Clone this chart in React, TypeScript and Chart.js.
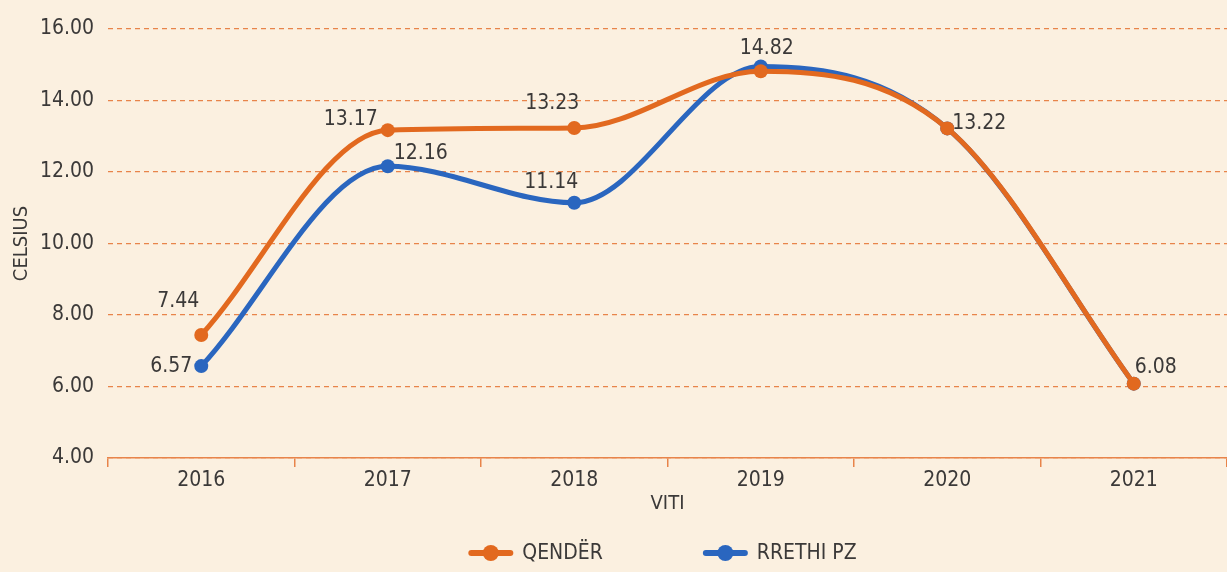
import { useEffect, useRef } from 'react';
import { Chart, registerables } from 'chart.js';

Chart.register(...registerables);

const years = ['2016', '2017', '2018', '2019', '2020', '2021'];
const qender = [7.44, 13.17, 13.23, 14.82, 13.22, 6.08];
const rrethi = [6.57, 12.16, 11.14, 14.95, 13.22, 6.08];
const qenderLabels = ['7.44', '13.17', '13.23', '14.82', '13.22', '6.08'];
const rrethiLabels = ['6.57', '12.16', '11.14', '', '', ''];
const seriesNames = ['QENDËR', 'RRETHI PZ'];

// label placement relative to the point (style, not data)
const qenderLabelOffsets = [[-23, -33], [-37, -11], [-22, -24], [6, -23], [32, -5], [22, -16]];
const rrethiLabelOffsets = [[-30, 0], [33, -13], [-23, -20], [0, 0], [0, 0], [0, 0]];

const ORANGE = '#e2691f';
const BLUE = '#2a66bf';
const GRID = '#e8844a';
const TEXT = '#3b3938';
const BG = '#fbf0e0';
const FONT = "'DejaVu Sans Condensed', 'Roboto', sans-serif";

const labelPlugin = {
  id: 'pointLabels',
  afterDatasetsDraw(chart: any) {
    const ctx = chart.ctx;
    const sets = [
      { idx: 0, labels: qenderLabels, offs: qenderLabelOffsets },
      { idx: 1, labels: rrethiLabels, offs: rrethiLabelOffsets },
    ];
    ctx.save();
    ctx.font = `21px ${FONT}`;
    ctx.fillStyle = TEXT;
    ctx.textAlign = 'center';
    ctx.textBaseline = 'middle';
    sets.forEach((s) => {
      const meta = chart.getDatasetMeta(s.idx);
      meta.data.forEach((pt: any, i: number) => {
        const t = s.labels[i];
        if (!t) return;
        const [dx, dy] = s.offs[i];
        ctx.fillText(t, pt.x + dx, pt.y + dy);
      });
    });
    ctx.restore();
  },
};

const legendPlugin = {
  id: 'customLegend',
  afterDraw(chart: any) {
    const ctx = chart.ctx;
    const ds = chart.data.datasets;
    const markerW = 45;
    const textGap = 9;
    const itemGap = 100;
    ctx.save();
    ctx.font = `21px ${FONT}`;
    const widths = ds.map((d: any) => ctx.measureText(d.label).width);
    const total = ds.reduce((acc: number, _d: any, i: number) => acc + markerW + textGap + widths[i], 0) + itemGap * (ds.length - 1);
    const area = chart.chartArea;
    let x = (area.left + area.right) / 2 - 5 - total / 2;
    const y = 553;
    ds.forEach((d: any, i: number) => {
      ctx.strokeStyle = d.borderColor;
      ctx.fillStyle = d.borderColor;
      ctx.lineWidth = 6;
      ctx.lineCap = 'round';
      ctx.beginPath();
      ctx.moveTo(x + 3, y);
      ctx.lineTo(x + markerW - 3, y);
      ctx.stroke();
      ctx.beginPath();
      ctx.arc(x + markerW / 2, y, 8, 0, Math.PI * 2);
      ctx.fill();
      ctx.fillStyle = TEXT;
      ctx.textAlign = 'left';
      ctx.textBaseline = 'middle';
      ctx.fillText(d.label, x + markerW + textGap, y + 1);
      x += markerW + textGap + widths[i] + itemGap;
    });
    ctx.restore();
  },
};

export default function App() {
  const ref = useRef<HTMLCanvasElement>(null);
  useEffect(() => {
    const chart = new Chart(ref.current!, {
      type: 'line',
      data: {
        labels: years,
        datasets: [
          {
            label: seriesNames[0],
            data: qender,
            borderColor: ORANGE,
            backgroundColor: ORANGE,
            borderWidth: 5,
            pointRadius: 7,
            pointBorderWidth: 0,
            cubicInterpolationMode: 'monotone',
            clip: false as any,
          },
          {
            label: seriesNames[1],
            data: rrethi,
            borderColor: BLUE,
            backgroundColor: BLUE,
            borderWidth: 5,
            pointRadius: 7,
            pointBorderWidth: 0,
            cubicInterpolationMode: 'monotone',
            clip: false as any,
          },
        ],
      },
      options: {
        animation: false,
        responsive: false,
        layout: { autoPadding: false, padding: { top: 29, right: 0, left: 0, bottom: 56 } },
        plugins: {
          tooltip: { enabled: false },
          legend: { display: false },
        },
        scales: {
          x: {
            offset: true,
            grid: {
              display: true,
              drawOnChartArea: false,
              drawTicks: true,
              tickLength: 9,
              color: GRID,
              lineWidth: 1.5,
              offset: true,
            },
            border: { display: true, color: GRID, width: 1.5 },
            ticks: { color: TEXT, font: { family: FONT, size: 21 }, padding: 1 },
            title: {
              display: true,
              text: 'VITI',
              color: TEXT,
              font: { family: FONT, size: 20 },
              padding: { top: 0, bottom: 0 },
            },
            afterFit: (s: any) => {
              s.height = 58;
            },
          },
          y: {
            min: 4,
            max: 16,
            ticks: {
              stepSize: 2,
              color: TEXT,
              padding: 14,
              font: { family: FONT, size: 21 },
              callback: (v: any) => Number(v).toFixed(2),
            },
            grid: {
              color: GRID,
              lineWidth: 1.2,
              drawTicks: false,
            },
            border: { display: false, dash: [5, 4] },
            afterFit: (s: any) => {
              s.width = 108;
            },
            title: {
              display: true,
              text: 'CELSIUS',
              color: TEXT,
              font: { family: FONT, size: 20 },
              padding: { top: 10, bottom: 0 },
            },
          },
        },
      } as any,
      plugins: [labelPlugin, legendPlugin],
    });
    return () => chart.destroy();
  }, []);
  return (
    <div style={{ position: 'fixed', left: 0, top: 0, width: 1227, height: 572, background: BG }}>
      <canvas ref={ref} width={1227} height={572} style={{ display: 'block' }} />
    </div>
  );
}
